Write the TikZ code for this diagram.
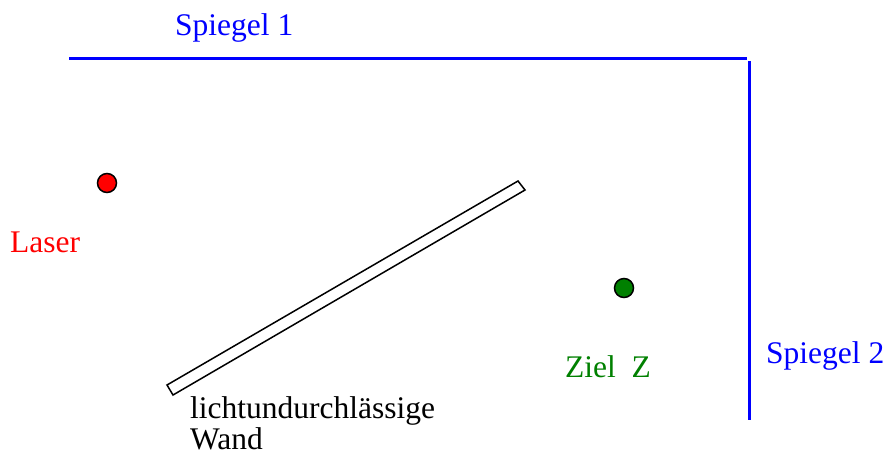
\documentclass[tikz,border=0pt]{standalone}
\usepackage{fontspec}
\setmainfont{Liberation Serif}
\definecolor{zielgreen}{RGB}{0,128,0}
\tikzset{
  spiegel/.style={blue, line width=3pt},
  punkt/.style={circle, draw=black, line width=1.5pt, minimum size=19pt, inner sep=0pt},
  beschriftung/.style={anchor=base west, inner sep=0pt}
}
\begin{document}
\begin{tikzpicture}[x=1pt, y=-1pt, font=\fontsize{31.5}{31}\selectfont]
	\useasboundingbox (0,0) rectangle (888,456);
	% Spiegel
	\coordinate (s1a) at (69,58);
	\coordinate (s1b) at (747,58);
	\coordinate (s2a) at (749,61);
	\coordinate (s2b) at (749,420);
	\draw[spiegel] (s1a) -- (s1b);
	\draw[spiegel] (s2a) -- (s2b);
	\node[beschriftung, blue] (spiegel1) at (175,35) {Spiegel 1};
	\node[beschriftung, blue] (spiegel2) at (766,363) {Spiegel 2};
	% Laser und Ziel
	\node[punkt, fill=red] (laser) at (107,183) {};
	\node[beschriftung, red] (laserlabel) at (10,252) {Laser};
	\node[punkt, fill=zielgreen] (ziel) at (624,288) {};
	\node[beschriftung, zielgreen] (ziellabel) at (565,377) {Ziel\ \ Z};
	% Wand
	\draw[line width=1.5pt] (167,385) -- (173,395) -- (525,190) -- (518,181) -- cycle;
	\node[anchor=north west, inner sep=0pt, align=left] (wand) at (190,396) {lichtundurchlässige\\Wand};
\end{tikzpicture}
\end{document}
